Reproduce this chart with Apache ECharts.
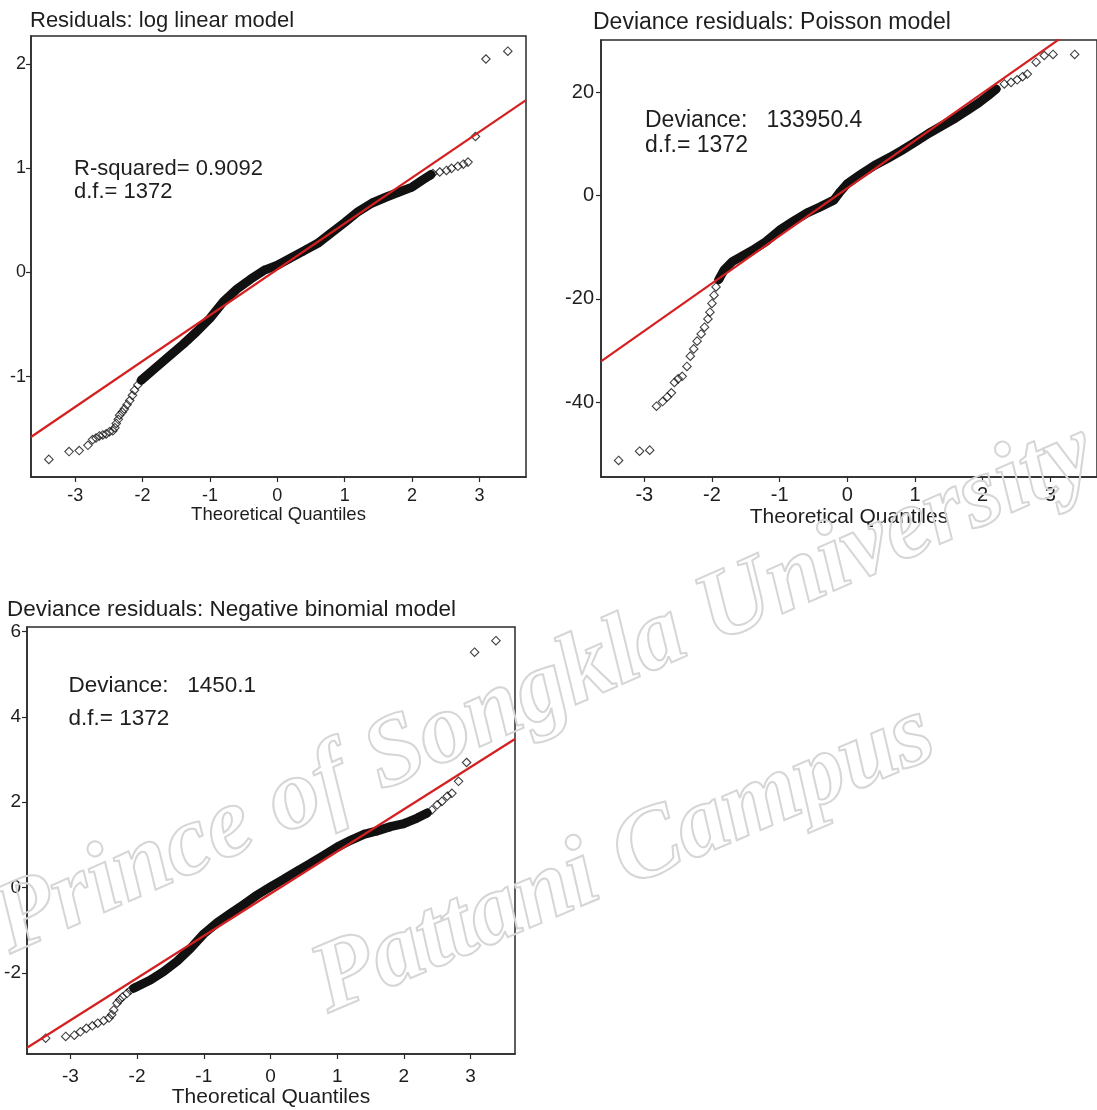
<!DOCTYPE html>
<html><head><meta charset="utf-8">
<script src="https://cdn.jsdelivr.net/npm/echarts@6/dist/echarts.min.js"></script>
<style>html,body{margin:0;padding:0;background:#fff}#c{width:1097px;height:1110px}</style>
</head><body><div id="c"></div>
<script>
// ---- tick labels ----
const xTicks = [-3, -2, -1, 0, 1, 2, 3];
const yTicks1 = [-1, 0, 1, 2];
const yTicks2 = [-40, -20, 0, 20];
const yTicks3 = [-2, 0, 2, 4, 6];

// ---- titles / annotations ----
const titles = ['Residuals: log linear model', 'Deviance residuals: Poisson model', 'Deviance residuals: Negative binomial model'];
const notes1 = ['R-squared= 0.9092', 'd.f.= 1372'];
const notes2 = ['Deviance:   133950.4', 'd.f.= 1372'];
const notes3 = ['Deviance:   1450.1', 'd.f.= 1372'];
const axisName = 'Theoretical Quantiles';

// ---- panel 1: log linear model residuals ----
const p1TailX = [-3.39,-3.09,-2.94,-2.81,-2.74,-2.69,-2.64,-2.59,-2.54,-2.49,-2.44,-2.41,-2.39,-2.36,-2.34,-2.30,-2.27,-2.23,-2.19,-2.15,-2.12,-2.07, 2.31,2.41,2.51,2.585,2.68,2.76,2.83, 2.94,3.095,3.42];
const p1TailY = [-1.795,-1.72,-1.71,-1.66,-1.605,-1.59,-1.57,-1.56,-1.55,-1.53,-1.52,-1.49,-1.45,-1.41,-1.37,-1.34,-1.31,-1.27,-1.23,-1.18,-1.13,-1.08, 0.95,0.965,0.98,1.0,1.02,1.04,1.06, 1.306,2.05,2.125];
const p1BandX = [-2.02,-1.85,-1.6,-1.4,-1.2,-1.0,-0.8,-0.6,-0.4,-0.2,0,0.2,0.4,0.6,0.8,1.0,1.2,1.4,1.6,1.8,2.0,2.16,2.28];
const p1BandY = [-1.035,-0.94,-0.80,-0.69,-0.57,-0.44,-0.28,-0.16,-0.065,0.02,0.07,0.14,0.21,0.28,0.38,0.48,0.585,0.665,0.72,0.77,0.82,0.89,0.94];
const p1LineX = [-3.655, 3.69];
const p1LineY = [-1.58, 1.655];

// ---- panel 2: Poisson deviance residuals ----
const p2TailX = [-3.38,-3.07,-2.92,-2.82,-2.73,-2.66,-2.60,-2.555,-2.50,-2.44,-2.37,-2.32,-2.27,-2.22,-2.16,-2.11,-2.06,-2.03,-2.0,-1.97,-1.94, 2.32,2.42,2.51,2.59,2.66,2.79,2.91,3.04,3.36];
const p2TailY = [-51.3,-49.5,-49.3,-40.8,-39.9,-39.0,-38.2,-36.2,-35.5,-35.0,-33.1,-31.1,-29.7,-28.2,-26.8,-25.5,-23.9,-22.6,-20.9,-19.3,-17.7, 21.6,21.9,22.4,23.0,23.5,25.8,27.1,27.3,27.3];
const p2BandX = [-1.9,-1.82,-1.7,-1.55,-1.4,-1.2,-1.0,-0.8,-0.6,-0.4,-0.2,-0.1,0,0.2,0.4,0.6,0.8,1.0,1.2,1.4,1.6,1.8,1.95,2.08,2.2];
const p2BandY = [-16.3,-14.4,-12.8,-11.7,-10.6,-8.9,-6.7,-5.0,-3.4,-2.2,-0.9,0.8,2.3,4.1,5.8,7.2,8.7,10.3,12.0,13.5,15.0,16.7,18.0,19.3,20.6];
const p2LineX = [-3.64, 3.69];
const p2LineY = [-32.1, 35.4];

// ---- panel 3: negative binomial deviance residuals ----
const p3TailX = [-3.37,-3.07,-2.94,-2.85,-2.76,-2.67,-2.59,-2.50,-2.42,-2.38,-2.35,-2.30,-2.26,-2.22,-2.15,-2.10, 2.42,2.50,2.57,2.65,2.72,2.82,2.94,3.06,3.38];
const p3TailY = [-3.52,-3.48,-3.45,-3.37,-3.29,-3.23,-3.17,-3.11,-3.05,-2.97,-2.86,-2.70,-2.62,-2.56,-2.47,-2.40, 1.82,1.94,2.02,2.14,2.21,2.49,2.93,5.51,5.78];
const p3BandX = [-2.05,-1.8,-1.6,-1.4,-1.2,-1.0,-0.8,-0.6,-0.4,-0.2,0,0.2,0.4,0.6,0.8,1.0,1.2,1.4,1.6,1.8,2.0,2.2,2.35];
const p3BandY = [-2.35,-2.16,-1.96,-1.72,-1.42,-1.08,-0.82,-0.60,-0.39,-0.17,0.02,0.20,0.39,0.57,0.76,0.95,1.11,1.25,1.33,1.43,1.50,1.63,1.75];
const p3LineX = [-3.65, 3.666];
const p3LineY = [-3.745, 3.48];

const watermark = ['Prince of Songkla University', 'Pattani Campus'];

// ---- styling ----
const FONT = '"Liberation Sans", Arial, sans-serif';
const TXT = '#1e1e1e';
const AXIS = '#2a2a2a';
const RED = '#d42020';

function pairs(xs, ys) { return xs.map((x, i) => [x, ys[i]]); }

function xAxisCfg(gi, min, max, fs, margin, nameGap, nameFs) {
  return {
    type: 'value', gridIndex: gi, min: min, max: max, position: 'bottom',
    axisLine: { show: true, onZero: false, lineStyle: { color: AXIS, width: 1.5 } },
    axisTick: { show: true, inside: false, length: 5, customValues: xTicks, lineStyle: { color: AXIS, width: 1.2 } },
    axisLabel: { customValues: xTicks, fontSize: fs, color: TXT, fontFamily: FONT, margin: margin },
    splitLine: { show: false },
    name: axisName, nameLocation: 'middle', nameGap: nameGap,
    nameTextStyle: { fontSize: nameFs, color: TXT, fontFamily: FONT }
  };
}
function yAxisCfg(gi, min, max, ticks, fs, margin) {
  return {
    type: 'value', gridIndex: gi, min: min, max: max, position: 'left',
    axisLine: { show: true, onZero: false, lineStyle: { color: AXIS, width: 1.5 } },
    axisTick: { show: true, inside: false, length: 5, customValues: ticks, lineStyle: { color: AXIS, width: 1.2 } },
    axisLabel: { customValues: ticks, fontSize: fs, color: TXT, fontFamily: FONT, margin: margin },
    splitLine: { show: false }
  };
}
function panelSeries(gi, bandX, bandY, tailX, tailY, lineX, lineY) {
  const mk = { type: 'scatter', xAxisIndex: gi, yAxisIndex: gi, symbol: 'diamond', symbolSize: 8.5,
    itemStyle: { color: 'rgba(0,0,0,0)', borderColor: '#111', borderWidth: 1.1 }, silent: true };
  return [
    { type: 'line', xAxisIndex: gi, yAxisIndex: gi, data: pairs(bandX, bandY), showSymbol: false,
      lineStyle: { color: '#111', width: 9, cap: 'round', join: 'round' }, silent: true, z: 2 },
    Object.assign({}, mk, { data: pairs(bandX, bandY), z: 3 }),
    Object.assign({}, mk, { data: pairs(tailX, tailY), z: 3 }),
    { type: 'line', xAxisIndex: gi, yAxisIndex: gi, data: pairs(lineX, lineY), showSymbol: false, clip: true,
      lineStyle: { color: RED, width: 2.2 }, silent: true, z: 5 }
  ];
}
function txt(x, y, s, size) {
  return { type: 'text', x: x, y: y, silent: true, z: 50,
    style: { text: s, font: size + 'px ' + FONT, fill: TXT, align: 'left', verticalAlign: 'middle',
      textAlign: 'left', textVerticalAlign: 'middle' } };
}
function wm(x, y, s, rot) {
  return { type: 'text', x: x, y: y, rotation: rot, silent: true, z: 100,
    style: { text: s, font: 'italic bold 100px "Liberation Serif", serif', fill: 'rgba(255,255,255,0)',
      stroke: '#d6d6d6', lineWidth: 2, align: 'center', verticalAlign: 'middle',
      textAlign: 'center', textVerticalAlign: 'middle' } };
}

const chart = echarts.init(document.getElementById('c'), null, { renderer: 'canvas' });
chart.setOption({
  animation: false,
  backgroundColor: '#ffffff',
  grid: [
    { left: 31, top: 36, width: 495, height: 441, show: true, borderColor: AXIS, borderWidth: 1.5, containLabel: false },
    { left: 601, top: 40, width: 506, height: 437, show: true, borderColor: AXIS, borderWidth: 1.5, containLabel: false },
    { left: 27, top: 627, width: 488, height: 427, show: true, borderColor: AXIS, borderWidth: 1.5, containLabel: false }
  ],
  xAxis: [
    xAxisCfg(0, -3.655, 3.69, 18, 10, 28, 18.5),
    xAxisCfg(1, -3.64, 3.69, 20, 8, 30, 21),
    xAxisCfg(2, -3.65, 3.666, 19, 13, 31.5, 21)
  ],
  yAxis: [
    yAxisCfg(0, -1.964, 2.271, yTicks1, 18, 5),
    yAxisCfg(1, -54.5, 30.1, yTicks2, 20, 7),
    yAxisCfg(2, -3.89, 6.1, yTicks3, 19, 6)
  ],
  series: [].concat(
    panelSeries(0, p1BandX, p1BandY, p1TailX, p1TailY, p1LineX, p1LineY),
    panelSeries(1, p2BandX, p2BandY, p2TailX, p2TailY, p2LineX, p2LineY),
    panelSeries(2, p3BandX, p3BandY, p3TailX, p3TailY, p3LineX, p3LineY)
  ),
  graphic: [
    txt(30, 21, titles[0], 22),
    txt(593, 22.5, titles[1], 23),
    txt(7, 610, titles[2], 22.5),
    txt(74, 168.7, notes1[0], 22),
    txt(74, 191.5, notes1[1], 22),
    txt(645, 120.2, notes2[0], 23),
    txt(645, 145.3, notes2[1], 23),
    txt(68.5, 686, notes3[0], 22.5),
    txt(68.5, 719, notes3[1], 22.5),
    wm(545, 690, watermark[0], 0.415),
    wm(624, 860, watermark[1], 0.40)
  ]
});
</script></body></html>
